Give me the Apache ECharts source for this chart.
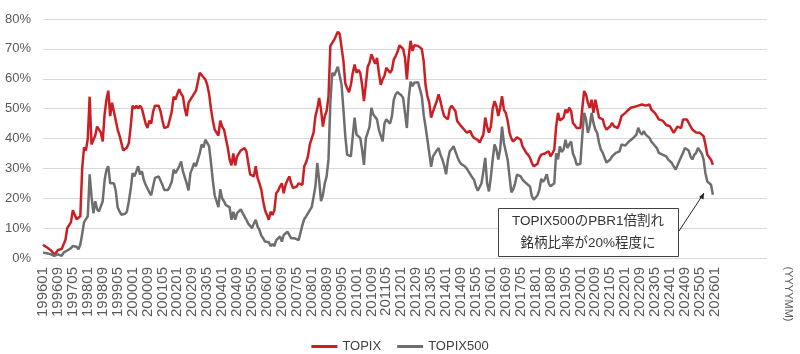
<!DOCTYPE html>
<html>
<head>
<meta charset="utf-8">
<script src="https://cdn.jsdelivr.net/npm/echarts@6/dist/echarts.min.js"></script>
<style>
  html, body { margin: 0; padding: 0; background: #fff; }
  #chart { width: 800px; height: 354px; }
</style>
</head>
<body>
<div id="chart"></div>
<script>
// 月次データ 199601〜202512 (PBR1倍割れ銘柄比率, %)
const topix = [
  4.4, 4.0, 3.6, 3.2, 2.7, 2.0, 1.0, 1.8, 2.7, 2.5, 3.0, 3.5,
  6, 10, 11, 12, 16, 15.5, 13, 13, 14, 30, 37, 36,
  40, 54, 38, 38, 41, 44, 43, 42, 39, 48, 53, 56,
  47.5, 52, 49, 46, 43, 41, 41.5, 36, 36, 37, 38.5, 44,
  51, 50, 51, 50, 51, 50, 50, 45, 43.5, 46, 45, 49,
  51, 51, 51, 49, 46, 43.5, 44, 44, 44, 49, 54, 53,
  55, 56.5, 55, 54, 50, 47.5, 52, 53, 53.6, 55, 56, 59,
  62, 62.6, 60.5, 59.8, 58, 55, 50, 46, 43, 42, 41, 46,
  44, 43, 40, 37, 33, 31, 35, 31, 34, 34, 36, 36.5,
  36.8, 35.7, 31.8, 28, 27.5, 27.3, 30.7, 26.8, 25, 22.8, 19, 16,
  14.5, 12.8, 15.5, 14.4, 16, 21.7, 22.5, 24, 25, 21.7, 24.5, 26,
  27.3, 25, 23.4, 23.4, 24, 25, 25.6, 24.5, 30.7, 32, 34, 38,
  37.4, 42, 47.5, 50, 53.6, 49.7, 44, 47.5, 49.2, 54, 71, 72,
  73, 73.5, 75.7, 75, 70.5, 66, 58.5, 56.8, 55.5, 58, 62, 64.8,
  62, 63, 62, 58, 52.5, 58, 64, 65.4, 68.2, 67.6, 65, 67,
  62, 58, 59.8, 61, 63.7, 63.2, 62, 63, 66.5, 67.6, 69, 71.2,
  71, 70, 67, 59.8, 67.6, 72.7, 69.3, 71.2, 71.2, 71, 71, 70,
  66, 58, 54.2, 52, 47, 49, 50.8, 52.5, 54.8, 52.5, 49.7, 47.5,
  47, 46.4, 50, 51, 51, 49.2, 45.8, 45, 44.2, 43.5, 43, 42,
  42, 42.5, 41, 40.2, 40.8, 39.5, 38.7, 39, 41.3, 47, 44, 42,
  44, 50, 52.5, 50.8, 47.5, 50.3, 54.2, 49.7, 48.6, 46, 42, 40,
  39, 39, 40.4, 40, 39.6, 37.4, 36.3, 35.2, 34.5, 33.5, 31.8, 30.7,
  30.1, 31.5, 33.5, 34.6, 34.2, 35, 35.4, 35.7, 34, 35, 36.3, 44,
  48.6, 46, 45.5, 47, 49.7, 48.6, 50.3, 49.2, 45.2, 44.5, 43.5, 44.1,
  43.5, 50, 55.9, 54.8, 52, 50.3, 53, 48.6, 53, 50, 47, 46.4,
  46.4, 44.1, 43, 43.5, 44.1, 45.2, 44.1, 44, 43.5, 45.2, 47.5, 48,
  48.5, 49.2, 49.7, 50.3, 50.5, 50.6, 50.3, 51, 51.4, 51.4, 52, 51,
  50.8, 51.4, 49.7, 49.2, 48.5, 47.5, 46.4, 46.4, 46, 45.8, 44.5, 44.1,
  44.1, 43, 41.9, 43, 44, 44.1, 43.5, 46.4, 46.9, 46.4, 46, 44.1,
  43, 42.5, 42, 41.9, 41.9, 41.5, 40.8, 38, 34.6, 34, 32.9, 31.2
];
const topix500 = [
  1.8, 1.7, 1.6, 1.6, 1.3, 1.0, 0.7, 1.0, 1.2, 0.9, 0.7, 1.8,
  2.0, 2.5, 2.8, 3.3, 4.0, 3.9, 3.8, 2.9, 4.5, 8, 12, 12.5,
  14, 28, 20.6, 15, 19, 16.3, 15.6, 16, 19, 26, 29.5, 30.7,
  25, 25.5, 25, 22.5, 17, 15.6, 14.5, 14, 14.8, 15.6, 19, 23,
  28.4, 27.3, 27.5, 30.7, 28, 29, 26.2, 24.5, 24, 22, 21, 24,
  26.8, 27, 27.3, 26.8, 24.5, 22.8, 22.8, 22.8, 24, 25.5, 29.6, 28.4,
  29.5, 30.7, 32.3, 29, 27, 25, 22.6, 28.4, 30, 31.8, 30.7, 33,
  35, 38, 37, 39.6, 38.5, 37.4, 32, 26, 21, 19, 17, 23,
  20, 19, 17.7, 17.3, 17, 12.8, 15.5, 12.8, 15, 15.5, 16.3, 15,
  14.5, 12.8, 11.5, 11, 10, 11.5, 12.8, 10.5, 9.4, 7.5, 6.6, 5.5,
  5.5, 5.3, 4, 4.7, 4, 6, 6.5, 7.2, 5.5, 7.7, 8.3, 8.8,
  8.3, 6.6, 6.6, 6.6, 6.9, 6, 6.6, 11, 13, 13.9, 14.4, 16,
  17, 20.4, 24, 31.8, 26, 19, 21, 25, 27.3, 33, 52, 62,
  61, 62.5, 64, 64, 58, 49.7, 40.8, 34.6, 34, 34, 40.8, 47,
  41.3, 40.8, 40.2, 36.3, 31.2, 40, 42, 44, 50.3, 48, 48.6, 46.4,
  43, 41, 39, 45, 46.4, 46, 45, 47.5, 53, 54.8, 55.5, 56,
  54.5, 53.6, 48.6, 43.5, 53.6, 59, 57.5, 58.7, 58.7, 58.8, 58.9, 54.2,
  48, 44, 39.6, 35.2, 30.5, 34, 34.6, 36, 36.8, 34.6, 33, 31,
  28, 32.9, 35.7, 36.5, 37.4, 36.8, 34, 32.5, 31.5, 31.5, 30.7, 30,
  29, 28.4, 27, 26.2, 24, 22.5, 22.8, 25, 29, 33.5, 25, 22.3,
  27, 33, 38, 36.3, 33, 36.3, 44, 38.5, 35.7, 32.9, 27.3, 22,
  23, 25, 27.9, 27.5, 27.3, 26.2, 26.2, 25, 24.5, 23.9, 20.6, 19.5,
  20, 21, 22.8, 26.5, 25.5, 26.5, 28, 25, 24, 23.5, 25, 35,
  33, 37.4, 35.5, 36.3, 39.6, 36.8, 38, 39, 35, 33.5, 31.2, 30.7,
  31.5, 40.8, 48.6, 46.4, 41.9, 44.1, 48.6, 45.2, 43, 41.9, 38.5, 36.3,
  35.2, 33.5, 32, 31.5, 33, 34, 34.6, 35.2, 35.5, 35.7, 38, 37.4,
  37.6, 38, 39, 39.6, 40, 40.2, 41.3, 43.6, 42, 41.3, 42.5, 41.3,
  41, 40.2, 39, 38.5, 37.5, 36.8, 35.2, 34.6, 34.6, 34.6, 34, 33,
  32.5, 31.8, 30.7, 29.6, 31, 32.5, 33, 35.2, 36.8, 36.5, 36, 34,
  33, 34.5, 35.2, 36.8, 36.3, 35, 33, 28.4, 25.6, 25.6, 24.5, 21.2
];
const startYear = 1996;
const axisMonths = 389;     // 199601〜202805 (軸は余白付き)
const lastLabel = '202601';
const yTicks = [0, 10, 20, 30, 40, 50, 60, 70, 80];
const noteLines = ['TOPIX500のPBR1倍割れ', '銘柄比率が20%程度に'];

const months = [];
for (let i = 0; i < axisMonths; i++) {
  const y = startYear + Math.floor(i / 12);
  const m = i % 12 + 1;
  months.push(y + (m < 10 ? '0' : '') + m);
}
const lastLabelIdx = months.indexOf(lastLabel);

const font = '"Liberation Sans", Arial, "Noto Sans CJK JP", sans-serif';
const chart = echarts.init(document.getElementById('chart'));
chart.setOption({
  animation: false,
  textStyle: { fontFamily: font },
  grid: { left: 43, right: 33, top: 19, bottom: 96 },
  legend: {
    top: 335,
    left: 'center',
    icon: 'rect',
    itemWidth: 26,
    itemHeight: 3,
    itemGap: 16,
    textStyle: { fontSize: 13, color: '#404040', fontFamily: font },
    data: ['TOPIX', 'TOPIX500']
  },
  xAxis: {
    type: 'category',
    data: months,
    boundaryGap: false,
    axisLine: { show: false },
    axisTick: { show: false },
    axisLabel: {
      interval: 7,
      rotate: 90,
      margin: 9,
      fontSize: 15,
      color: '#595959',
      formatter: (v, i) => (i <= lastLabelIdx ? v : '')
    },
    splitLine: { show: false }
  },
  yAxis: {
    type: 'value',
    min: yTicks[0],
    max: yTicks[yTicks.length - 1],
    interval: 10,
    axisLabel: { fontSize: 13, color: '#595959', margin: 12, formatter: '{value}%' },
    splitLine: { lineStyle: { color: '#d9d9d9', width: 1 } }
  },
  series: [
    {
      name: 'TOPIX',
      type: 'line',
      data: topix,
      symbol: 'none',
      color: '#cc1f24',
      lineStyle: { width: 2.5, color: '#cc1f24' }
    },
    {
      name: 'TOPIX500',
      type: 'line',
      data: topix500,
      symbol: 'none',
      color: '#6e6e6e',
      lineStyle: { width: 2.5, color: '#6e6e6e' }
    }
  ],
  graphic: [
    {
      type: 'text',
      x: 788, y: 294,
      rotation: -Math.PI / 2,
      style: { text: '(YYYYMM)', font: '11px ' + font, fill: '#595959', align: 'center', verticalAlign: 'middle' }
    },
    {
      type: 'rect',
      shape: { x: 498.5, y: 208.5, width: 180, height: 48 },
      style: { fill: '#fff', stroke: '#404040', lineWidth: 1 },
      z: 100
    },
    {
      type: 'text',
      x: 588, y: 221,
      style: { text: noteLines[0], font: '13.5px ' + font, fill: '#333', align: 'center', verticalAlign: 'middle' },
      z: 101
    },
    {
      type: 'text',
      x: 588, y: 243,
      style: { text: noteLines[1], font: '13.5px ' + font, fill: '#333', align: 'center', verticalAlign: 'middle' },
      z: 101
    },
    {
      type: 'line',
      shape: { x1: 679, y1: 231, x2: 704, y2: 193 },
      style: { stroke: '#222', lineWidth: 1 },
      z: 101
    },
    {
      type: 'polygon',
      shape: { points: [[704, 193], [699, 197], [703.5, 199.5]] },
      style: { fill: '#222' },
      z: 101
    }
  ]
});
</script>
</body>
</html>
